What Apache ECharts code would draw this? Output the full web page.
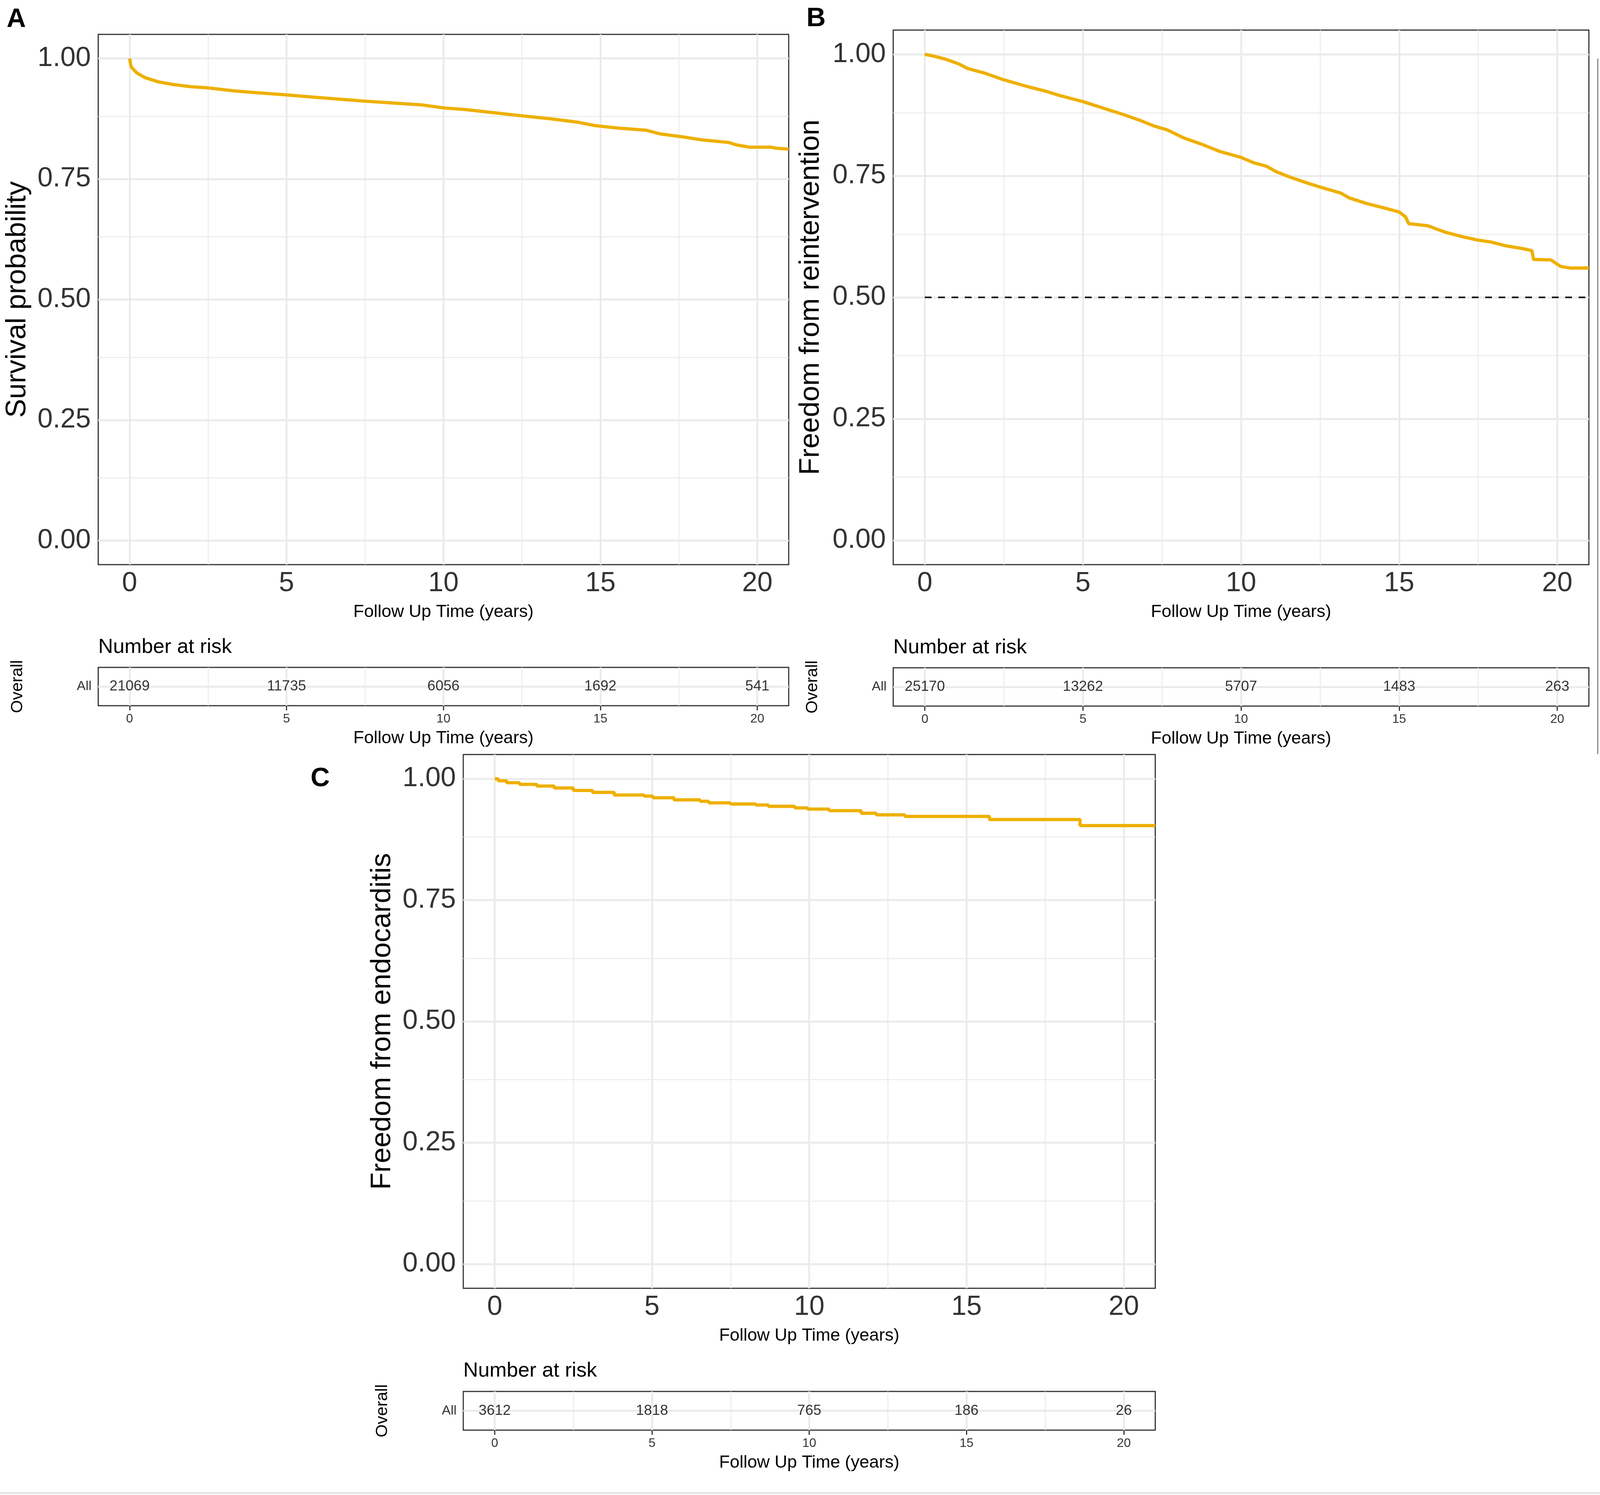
<!DOCTYPE html>
<html>
<head>
<meta charset="utf-8">
<title>Survival curves</title>
<script src="https://cdn.jsdelivr.net/npm/echarts@6/dist/echarts.min.js"></script>
<style>
    html, body { margin: 0; padding: 0; background: #fff; overflow: hidden; }
    #main { position: absolute; left: 0; top: 0; }
</style>
</head>
<body>
<div id="main"></div>
<script>
// 数据
// A: Survival probability
var timeA = [0, 0.05, 0.23, 0.5, 0.92, 1.4, 1.95, 2.5, 3.3, 3.86, 5.0, 5.9, 7.5, 9.34, 10.0, 10.7, 11.4, 12.5, 13.45, 14.27, 14.8, 15.5, 16.47, 16.9, 17.56, 18.25, 19.07, 19.34, 19.75, 20.44, 20.58, 21];
var survA = [1.000, 0.9825, 0.970, 0.960, 0.9515, 0.946, 0.9415, 0.939, 0.933, 0.930, 0.9245, 0.9196, 0.9115, 0.9035, 0.8975, 0.894, 0.889, 0.881, 0.8746, 0.868, 0.861, 0.856, 0.851, 0.8436, 0.838, 0.831, 0.826, 0.8207, 0.816, 0.816, 0.814, 0.812];

// B: Freedom from reintervention
var timeB = [0, 0.25, 0.66, 1.07, 1.35, 1.9, 2.5, 3.27, 3.82, 4.23, 5.0, 5.74, 6.29, 6.84, 7.25, 7.66, 8.21, 8.76, 9.31, 10.0, 10.4, 10.8, 11.1, 11.5, 12.06, 12.5, 13.16, 13.43, 13.98, 14.53, 15.0, 15.2, 15.3, 15.9, 16.46, 17.0, 17.5, 17.9, 18.38, 18.93, 19.2, 19.25, 19.8, 20.1, 20.4, 21];
var survB = [1.000, 0.997, 0.990, 0.9806, 0.971, 0.9613, 0.9476, 0.9333, 0.9243, 0.916, 0.9028, 0.8874, 0.876, 0.8633, 0.8526, 0.8447, 0.8275, 0.815, 0.8006, 0.788, 0.777, 0.770, 0.759, 0.7486, 0.736, 0.727, 0.7145, 0.7044, 0.693, 0.684, 0.6757, 0.666, 0.6517, 0.6474, 0.634, 0.6248, 0.6177, 0.614, 0.606, 0.600, 0.5961, 0.578, 0.5771, 0.5638, 0.5603, 0.5603];
var medianB = 0.5;

// C: Freedom from endocarditis (阶梯)
var timeC = [0, 0.11, 0.38, 0.79, 1.34, 1.89, 2.5, 3.11, 3.8, 4.75, 5.03, 5.7, 6.53, 6.8, 7.49, 8.3, 8.7, 9.54, 9.95, 10.63, 11.65, 12.13, 13.04, 15.73, 18.61, 21];
var survC = [1.000, 0.996, 0.992, 0.9885, 0.985, 0.981, 0.976, 0.972, 0.9665, 0.9644, 0.961, 0.9566, 0.9537, 0.9505, 0.948, 0.946, 0.9433, 0.940, 0.9376, 0.9344, 0.929, 0.9256, 0.9224, 0.916, 0.9036, 0.9036];

// Number at risk
var riskTimes = [0, 5, 10, 15, 20];
var riskA = [21069, 11735, 6056, 1692, 541];
var riskB = [25170, 13262, 5707, 1483, 263];
var riskC = [3612, 1818, 765, 186, 26];

// 刻度
var xMajor = [0, 5, 10, 15, 20];
var xMinor = [2.5, 7.5, 12.5, 17.5];
var yMajor = [0, 0.25, 0.5, 0.75, 1];
var yMinor = [0.125, 0.375, 0.625, 0.875];

var FONT = '"Liberation Sans", Arial, Helvetica, sans-serif';
var CURVE = '#EEB000';
var GRIDC = '#EBEBEB';

// 按窗口大小缩放（设计尺寸 4317x3826），横向/纵向分别缩放
var W0 = 4317, H0 = 3826;
var SX = window.innerWidth / W0, SY = window.innerHeight / H0;
var SF = (SX + SY) / 2;
function px(v) { return v * SX; }   // 横向
function py(v) { return v * SY; }   // 纵向
function pf(v) { return v * SF; }   // 字号、线宽

var dom = document.getElementById('main');
dom.style.width = window.innerWidth + 'px';
dom.style.height = window.innerHeight + 'px';

function pairs(xs, ys) {
    var out = [];
    for (var i = 0; i < xs.length; i++) out.push([xs[i], ys[i]]);
    return out;
}

// 背景网格线（ggplot 风格，主/次网格）
function gridLines(idx, table) {
    var d = [];
    var minor = { color: GRIDC, width: pf(2.5), type: 'solid' };
    var major = { color: GRIDC, width: pf(5), type: 'solid' };
    xMinor.forEach(function (v) { d.push({ xAxis: v, lineStyle: minor }); });
    xMajor.forEach(function (v) { d.push({ xAxis: v, lineStyle: major }); });
    if (table) {
        d.push({ yAxis: 'All', lineStyle: major });
    } else {
        yMinor.forEach(function (v) { d.push({ yAxis: v, lineStyle: minor }); });
        yMajor.forEach(function (v) { d.push({ yAxis: v, lineStyle: major }); });
    }
    return {
        type: 'line', xAxisIndex: idx, yAxisIndex: idx, data: [], silent: true, z: 1,
        markLine: { silent: true, symbol: ['none', 'none'], label: { show: false }, animation: false, z: 1, data: d }
    };
}

var tickStyle = { color: '#333', width: pf(3) };

function mainX(idx) {
    return {
        type: 'value', gridIndex: idx, min: -1, max: 21,
        axisLine: { show: false }, splitLine: { show: false },
        axisTick: { show: true, customValues: xMajor, length: py(13), lineStyle: tickStyle },
        axisLabel: { customValues: xMajor, fontSize: pf(72), color: '#333', margin: py(14), fontFamily: FONT },
        name: 'Follow Up Time (years)', nameLocation: 'middle', nameGap: py(99),
        nameTextStyle: { fontSize: pf(46), color: '#000', fontFamily: FONT }
    };
}
function mainY(idx, title, gap) {
    return {
        type: 'value', gridIndex: idx, min: -0.05, max: 1.05,
        axisLine: { show: false }, splitLine: { show: false },
        axisTick: { show: true, customValues: yMajor, length: px(13), lineStyle: tickStyle },
        axisLabel: {
            customValues: yMajor, fontSize: pf(72), color: '#333', margin: px(20), fontFamily: FONT,
            formatter: function (v) { return v.toFixed(2); }
        },
        name: title, nameLocation: 'middle', nameGap: px(gap),
        nameTextStyle: { fontSize: pf(74), color: '#000', fontFamily: FONT }
    };
}
function tableX(idx) {
    return {
        type: 'value', gridIndex: idx, min: -1, max: 21,
        axisLine: { show: false }, splitLine: { show: false },
        axisTick: { show: true, customValues: xMajor, length: py(12), lineStyle: tickStyle },
        axisLabel: { customValues: xMajor, fontSize: pf(33), color: '#333', margin: py(18), fontFamily: FONT },
        name: 'Follow Up Time (years)', nameLocation: 'middle', nameGap: py(61),
        nameTextStyle: { fontSize: pf(46), color: '#000', fontFamily: FONT }
    };
}
function tableY(idx) {
    return {
        type: 'category', gridIndex: idx, data: ['All'],
        axisLine: { show: false }, splitLine: { show: false },
        axisTick: { show: true, alignWithLabel: true, length: px(12), lineStyle: tickStyle },
        axisLabel: { fontSize: pf(35), color: '#333', margin: px(18), fontFamily: FONT },
        name: 'Overall', nameLocation: 'middle', nameGap: px(195),
        nameTextStyle: { fontSize: pf(44), color: '#000', fontFamily: FONT }
    };
}
function riskSeries(idx, vals) {
    var d = [];
    for (var i = 0; i < riskTimes.length; i++) d.push([riskTimes[i], 'All', vals[i]]);
    return {
        type: 'scatter', xAxisIndex: idx, yAxisIndex: idx, data: d, symbolSize: 1, z: 3,
        itemStyle: { color: 'rgba(0,0,0,0)' },
        label: {
            show: true, position: 'inside', fontSize: pf(38), color: '#000', fontFamily: FONT,
            formatter: function (p) { return p.value[2]; }
        }
    };
}
function curve(idx, xs, ys, step) {
    return {
        type: 'line', xAxisIndex: idx, yAxisIndex: idx, data: pairs(xs, ys), step: step || false,
        showSymbol: false, symbol: 'none', z: 3, clip: true,
        lineStyle: { color: CURVE, width: pf(8.5) }
    };
}

function g(l, t, w, h) {
    return {
        left: px(l), top: py(t), width: px(w), height: py(h),
        show: true, borderColor: '#333', borderWidth: pf(3), backgroundColor: '#fff', containLabel: false
    };
}

function txt(x, y, s, size, bold) {
    return {
        type: 'text', x: px(x), y: py(y), silent: true,
        style: { text: s, fontSize: pf(size), fontWeight: bold ? 'bold' : 'normal', fill: '#000', fontFamily: FONT, verticalAlign: 'middle', align: 'left' }
    };
}

var myChart = echarts.init(dom, null, { renderer: 'canvas' });

var option = {
    backgroundColor: '#fff',
    animation: false,
    textStyle: { fontFamily: FONT },
    grid: [
        g(265, 88, 1863, 1357),     // A
        g(265, 1708, 1863, 98),     // A table
        g(2410, 77, 1877, 1368),    // B
        g(2410, 1709, 1877, 98),    // B table
        g(1250, 1931, 1867, 1366),  // C
        g(1250, 3561, 1867, 99)     // C table
    ],
    xAxis: [mainX(0), tableX(1), mainX(2), tableX(3), mainX(4), tableX(5)],
    yAxis: [
        mainY(0, 'Survival probability', 180), tableY(1),
        mainY(2, 'Freedom from reintervention', 184), tableY(3),
        mainY(4, 'Freedom from endocarditis', 180), tableY(5)
    ],
    series: [
        gridLines(0, false), gridLines(1, true),
        gridLines(2, false), gridLines(3, true),
        gridLines(4, false), gridLines(5, true),
        curve(0, timeA, survA),
        curve(2, timeB, survB),
        {
            type: 'line', xAxisIndex: 2, yAxisIndex: 2, data: [[0, medianB], [21, medianB]],
            showSymbol: false, symbol: 'none', z: 2,
            lineStyle: { color: '#000', width: pf(4), type: [px(18), px(18)] }
        },
        curve(4, timeC, survC, 'end'),
        riskSeries(1, riskA),
        riskSeries(3, riskB),
        riskSeries(5, riskC)
    ],
    graphic: [
        txt(18, 50, 'A', 70, true),
        txt(2176, 48, 'B', 70, true),
        txt(838, 1993, 'C', 70, true),
        txt(265, 1656, 'Number at risk', 54),
        txt(2410, 1657, 'Number at risk', 54),
        txt(1250, 3508, 'Number at risk', 54),
        { type: 'line', silent: true, shape: { x1: px(4311), y1: py(150), x2: px(4311), y2: py(1930) }, style: { stroke: '#888', lineWidth: pf(3) } },
        { type: 'line', silent: true, shape: { x1: 0, y1: py(3821), x2: px(W0), y2: py(3821) }, style: { stroke: '#e6e6e6', lineWidth: pf(5) } }
    ]
};

myChart.setOption(option);
</script>
</body>
</html>
